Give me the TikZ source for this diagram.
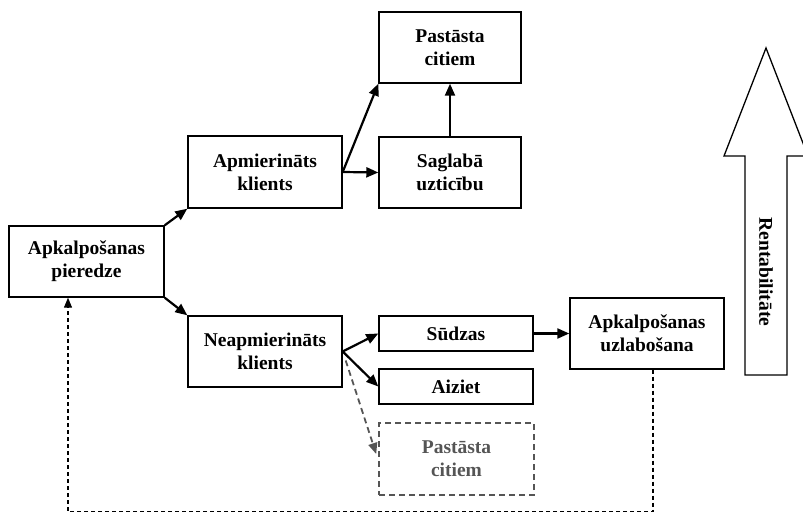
\documentclass[tikz,border=0pt]{standalone}
\usepackage{fontspec}
\setmainfont{Liberation Serif}
\usetikzlibrary{arrows.meta,calc}
\definecolor{dgray}{HTML}{555555}
\begin{document}
\begin{tikzpicture}[x=1pt,y=-1pt,
  box/.style={draw, line width=1.4pt, align=center, inner sep=0pt,
    font=\bfseries\fontsize{19.5}{23}\selectfont},
  conn/.style={line width=2.2pt, -{Triangle[length=12pt,width=10pt]}},
  gconn/.style={line width=1.8pt, draw=dgray, dash pattern=on 6pt off 4pt, -{Triangle[length=11pt,width=9pt]}},
  fb/.style={line width=1.1pt, dash pattern=on 4pt off 3pt, -{Triangle[length=10pt,width=8pt]}},
  bigarrow/.style={draw, line width=1.3pt, fill=white}]
\useasboundingbox (0,0) rectangle (803,513);
\node[box, minimum width=155pt, minimum height=71pt] (apk) at (86.5,261.5) {Apkalpošanas\\pieredze};
\node[box, minimum width=154pt, minimum height=72pt] (apm) at (265,172) {Apmierināts\\klients};
\node[box, minimum width=154pt, minimum height=71pt] (neap) at (265,351.5) {Neapmierināts\\klients};
\node[box, minimum width=142pt, minimum height=71pt] (top) at (450,47.5) {Pastāsta\\citiem};
\node[box, minimum width=142pt, minimum height=71pt] (sag) at (450,172.5) {Saglabā\\uzticību};
\node[box, minimum width=154pt, minimum height=35pt] (sud) at (456,333.5) {Sūdzas};
\node[box, minimum width=154pt, minimum height=35pt] (aiz) at (456,386.5) {Aiziet};
\node[box, draw=dgray, text=dgray, line width=1.6pt, dash pattern=on 6pt off 4pt, minimum width=155pt, minimum height=72pt] (dsh) at (456.5,459) {Pastāsta\\citiem};
\node[box, minimum width=154pt, minimum height=71pt] (uzl) at (647,333.5) {Apkalpošanas\\uzlabošana};
% connectors
\draw[conn] (apk.north east) -- (apm.south west);
\draw[conn] (apk.south east) -- (neap.north west);
\draw[conn] (apm.east) -- (sag.west);
\draw[conn] (apm.east) -- (top.south west);
\draw[conn] (sag.north) -- (top.south);
\draw[conn] (neap.east) -- (sud.west);
\draw[conn] (neap.east) -- (aiz.west);
\draw[gconn] ($(neap.east)+(3,9)$) -- ($(dsh.west)+(-2,-5)$);
\draw[conn] (sud.east) -- (uzl.west);
% feedback
\coordinate (fbstart) at ($(uzl.south)+(6,0)$);
\coordinate (fbc1) at ($(fbstart)+(0,142)$);
\coordinate (fbend) at ($(apk.south)+(-18.5,0)$);
\draw[fb] (fbstart) -- (fbc1) -| (fbend);
% big arrow
\draw[bigarrow] (745,375) -- (745,156) -- (724,156) -- (766,48) -- (808,156) -- (787,156) -- (787,375) -- cycle;
\node[rotate=-90, font=\bfseries\fontsize{19.5}{23}\selectfont] (rent) at (766,272) {Rentabilitāte};
\end{tikzpicture}
\end{document}
